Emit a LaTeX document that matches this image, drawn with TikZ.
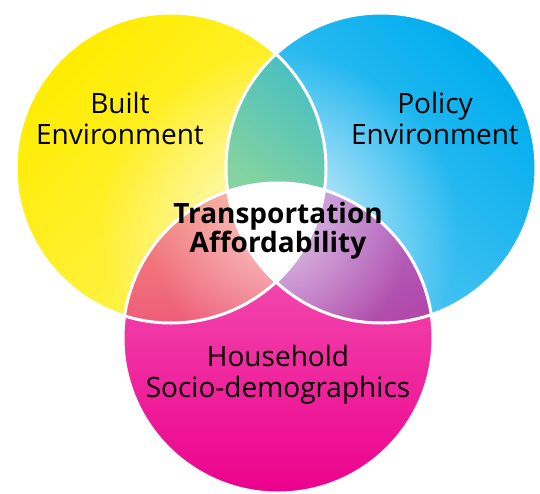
\documentclass[tikz,border=0pt]{standalone}
\usepackage{fontspec}
\setmainfont{Open Sans}
\usetikzlibrary{fadings}
\definecolor{ylwA}{HTML}{FFEC00}
\definecolor{ylwB}{HTML}{FFF35A}
\definecolor{bluA}{HTML}{00ADEE}
\definecolor{bluB}{HTML}{62CBF3}
\definecolor{magA}{HTML}{F566BB}
\definecolor{magB}{HTML}{EC008C}
\definecolor{grnA}{HTML}{84D3A0}
\definecolor{grnB}{HTML}{45BEC4}
\definecolor{redA}{HTML}{F4937F}
\definecolor{redB}{HTML}{EF5A79}
\definecolor{purA}{HTML}{B57BCC}
\definecolor{purB}{HTML}{B249AA}
\tikzfading[name=glowfade, inner color=transparent!20, outer color=transparent!100]
\tikzfading[name=softfade, inner color=transparent!45, outer color=transparent!100]
\begin{document}
\begin{tikzpicture}[x=1pt,y=-1pt,
  lbl/.style={align=center, font=\fontsize{28}{31}\selectfont, inner sep=0pt},
  blbl/.style={align=center, font=\bfseries\fontsize{28}{28}\selectfont, inner sep=0pt},
  ring/.style={draw=white, line width=3pt},
  glow/.style={fill=white, path fading=glowfade},
  softglow/.style={fill=white, path fading=softfade}]
\useasboundingbox (0,0) rectangle (540,493);
\coordinate (Y) at (171,168);
\coordinate (B) at (381,168);
\coordinate (M) at (278,338);
\coordinate (G) at (278,232);
% top circles
\shade[top color=ylwA, bottom color=ylwB, shading angle=45] (Y) circle (155pt);
\shade[top color=bluA, bottom color=bluB, shading angle=-45] (B) circle (155pt);
\fill[glow] (G) circle (180pt);
% bottom circle
\shade[top color=magA, bottom color=magB] (M) circle (155pt);
% red lens
\begin{scope}
  \clip (Y) circle (155pt);
  \clip (M) circle (155pt);
  \shade[top color=redA, bottom color=redB] (120,180) rectangle (280,330);
  \fill[softglow] (G) circle (130pt);
\end{scope}
% purple lens
\begin{scope}
  \clip (B) circle (155pt);
  \clip (M) circle (155pt);
  \shade[top color=purA, bottom color=purB, shading angle=30] (275,180) rectangle (436,330);
  \fill[softglow] (G) circle (130pt);
\end{scope}
% green lens
\begin{scope}
  \clip (Y) circle (155pt);
  \clip (B) circle (155pt);
  \shade[top color=grnB, bottom color=grnA, shading angle=-40] (225,50) rectangle (330,195);
\end{scope}
% center
\begin{scope}
  \clip (Y) circle (155pt);
  \clip (B) circle (155pt);
  \fill[white] (M) circle (155pt);
\end{scope}
% rings
\draw[ring] (Y) circle (155pt);
\draw[ring] (B) circle (155pt);
\draw[ring] (M) circle (155pt);
% labels
\node[lbl] (built) at (120,118) {Built\\Environment};
\node[lbl] (policy) at (435,118) {Policy\\Environment};
\node[lbl] (house) at (278,375) {Household\\Socio-demographics};
\node[blbl] (ta) at (278,231) {Transportation\\Affordability};
\end{tikzpicture}
\end{document}
